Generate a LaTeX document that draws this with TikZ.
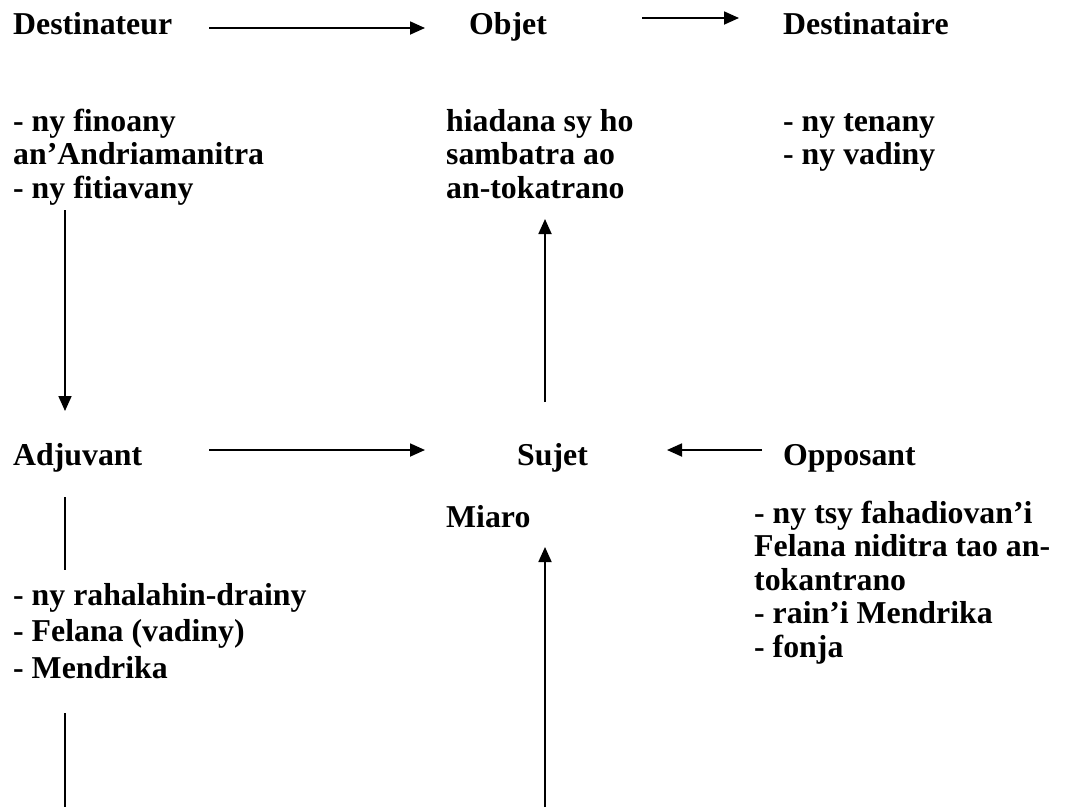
\documentclass[tikz,border=0pt]{standalone}
\usepackage{fontspec}
\setmainfont{Liberation Serif}
\usetikzlibrary{arrows.meta}
\begin{document}
\begin{tikzpicture}[x=1pt,y=-1pt,
  lbl/.style={anchor=base west, inner sep=0pt, align=left,
    font=\fontsize{31.8}{33.5}\selectfont\bfseries},
  wide/.style={font=\fontsize{31.8}{36.5}\selectfont\bfseries},
  conn/.style={line width=1.8pt, -{Triangle[length=15pt,width=13pt]}},
  bar/.style={line width=1.6pt}]
\useasboundingbox (0,0) rectangle (1066,807);

% actantial roles
\node[lbl] (dest)  at (13,34)  {Destinateur};
\node[lbl] (obj)   at (469,34) {Objet};
\node[lbl] (dstre) at (783,34) {Destinataire};
\node[lbl] (adj)   at (13,465)  {Adjuvant};
\node[lbl] (suj)   at (517,465) {Sujet};
\node[lbl] (opp)   at (783,465) {Opposant};

% who fills each role (placed by the baseline of the last line)
\node[lbl] (destinfo)  at (13,198)  {- ny finoany\\an’Andriamanitra\\- ny fitiavany};
\node[lbl] (objinfo)   at (446,198) {hiadana sy ho\\sambatra ao\\an-tokatrano};
\node[lbl] (dstreinfo) at (783,164.5) {- ny tenany\\- ny vadiny};
\node[lbl] (sujinfo)   at (446,527) {Miaro};
\node[lbl] (oppinfo)   at (754,657) {- ny tsy fahadiovan’i\\Felana niditra tao an-\\tokantrano\\- rain’i Mendrika\\- fonja};
\node[lbl,wide] (adjinfo) at (13,678) {- ny rahalahin-drainy\\- Felana (vadiny)\\- Mendrika};

% connector end points
\coordinate (a1s) at (209,28);  \coordinate (a1e) at (425,28);
\coordinate (a2s) at (642,18);  \coordinate (a2e) at (739,18);
\coordinate (a3s) at (65,210);  \coordinate (a3e) at (65,411);
\coordinate (a4s) at (545,402); \coordinate (a4e) at (545,219);
\coordinate (a5s) at (209,450); \coordinate (a5e) at (425,450);
\coordinate (a6s) at (762,450); \coordinate (a6e) at (667,450);
\coordinate (b1s) at (65,497);  \coordinate (b1e) at (65,570);
\coordinate (a7s) at (545,807); \coordinate (a7e) at (545,547);
\coordinate (b2s) at (65,713);  \coordinate (b2e) at (65,807);

\draw[conn] (a1s) -- (a1e);
\draw[conn] (a2s) -- (a2e);
\draw[conn] (a3s) -- (a3e);
\draw[conn] (a4s) -- (a4e);
\draw[conn] (a5s) -- (a5e);
\draw[conn] (a6s) -- (a6e);
\draw[conn] (a7s) -- (a7e);
\draw[bar] (b1s) -- (b1e);
\draw[bar] (b2s) -- (b2e);
\end{tikzpicture}
\end{document}
